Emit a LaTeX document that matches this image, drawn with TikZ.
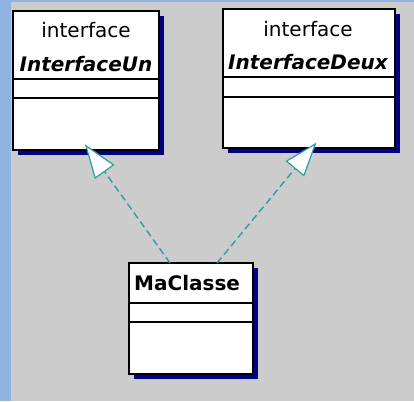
\documentclass[tikz,border=0pt]{standalone}
\usepackage{fontspec}
\setmainfont{DejaVu Sans}
\usetikzlibrary{arrows.meta,shadows}

\definecolor{bgGray}{HTML}{CCCCCC}
\definecolor{edgeBlue}{HTML}{8FB4E3}
\definecolor{shadowNavy}{HTML}{000080}
\definecolor{realizeTeal}{HTML}{2A9E9E}

\newcommand{\labelsize}{\fontsize{20pt}{24pt}\selectfont}

\tikzset{
  umlbox/.style={draw=black, line width=1.6pt, fill=white, anchor=north west,
    inner sep=0pt, outer sep=0pt,
    drop shadow={shadow xshift=5pt, shadow yshift=-5pt, fill=shadowNavy, opacity=1}},
  stereotext/.style={font=\labelsize, inner sep=0pt, anchor=base},
  ifname/.style={font=\labelsize\bfseries\itshape, inner sep=0pt, anchor=base},
  clname/.style={font=\labelsize\bfseries, inner sep=0pt, anchor=base west},
  sepline/.style={draw=black, line width=1.3pt},
  realize/.style={draw=realizeTeal, line width=1.4pt, dash pattern=on 7pt off 4pt,
    -{Triangle[open, length=34pt, width=24pt, fill=white, line width=1.2pt]},
    shorten >=-7pt},
}

\begin{document}
\begin{tikzpicture}[x=1pt, y=-1pt]
  % canvas
  \fill[bgGray] (0,0) rectangle (414,401);
  \fill[edgeBlue] (0,0) rectangle (11,401);
  \fill[edgeBlue] (0,0) rectangle (414,2);
  \useasboundingbox (0,0) rectangle (414,401);

  % interface InterfaceUn
  \node[umlbox, minimum width=146pt, minimum height=139pt] (un) at (13,11) {};
  \draw[sepline] (13,79) -- (159,79);
  \draw[sepline] (13,98) -- (159,98);
  \node[stereotext] (unStereo) at (86,38) {interface};
  \node[ifname] (unName) at (86,72) {InterfaceUn};

  % interface InterfaceDeux
  \node[umlbox, minimum width=172pt, minimum height=139pt] (deux) at (223,9) {};
  \draw[sepline] (223,77) -- (395,77);
  \draw[sepline] (223,97) -- (395,97);
  \node[stereotext] (deuxStereo) at (308,37) {interface};
  \node[ifname] (deuxName) at (308,70) {InterfaceDeux};

  % class MaClasse
  \node[umlbox, minimum width=124pt, minimum height=111pt] (mc) at (129,263) {};
  \draw[sepline] (129,303) -- (253,303);
  \draw[sepline] (129,322) -- (253,322);
  \node[clname] (mcName) at (134,290) {MaClasse};

  % realization arrows
  \draw[realize] ([xshift=41pt]mc.north west) -- ([xshift=76pt]un.south west);
  \draw[realize] ([xshift=88pt]mc.north west) -- ([xshift=89pt]deux.south west);
\end{tikzpicture}
\end{document}
